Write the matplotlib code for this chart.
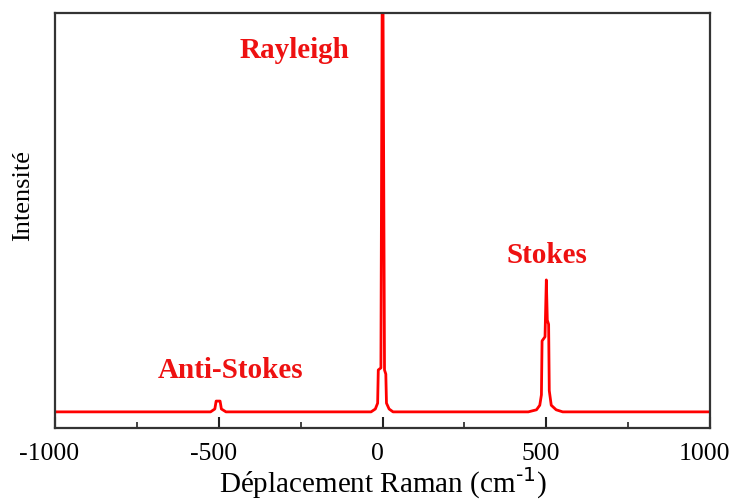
import matplotlib
matplotlib.use('Agg')
import matplotlib.pyplot as plt
from matplotlib.ticker import MultipleLocator
from matplotlib.transforms import ScaledTranslation

# Raman spectrum: Anti-Stokes, Rayleigh and Stokes lines on a flat baseline
shift = [-1000, -525, -512, -508, -496, -492, -478,
         -35, -22, -15, -13, -5, 0, 6, 10, 12, 20, 32,
         445, 470, 480, 485, 487, 496, 500, 503, 507, 509, 515, 530, 550,
         1000]
intensity = [0.039, 0.039, 0.046, 0.065, 0.065, 0.046, 0.039,
             0.039, 0.046, 0.06, 0.14, 0.145, 1.3, 0.14, 0.13, 0.06, 0.046, 0.039,
             0.039, 0.044, 0.055, 0.08, 0.21, 0.22, 0.357, 0.26, 0.25, 0.09, 0.055, 0.044, 0.039,
             0.039]

peak_names = ['Anti-Stokes', 'Rayleigh', 'Stokes']
label_x = [-463, -270, 502]
label_y = [0.120, 0.892, 0.398]

red = '#FF0000'
plt.rcParams['font.family'] = ['Liberation Serif', 'DejaVu Serif']
plt.rcParams['axes.unicode_minus'] = False

fig = plt.figure(figsize=(7.32, 5.03), dpi=100)
ax = fig.add_axes([0.0751, 0.149, 0.895, 0.825])

ax.plot(shift, intensity, color=red, lw=2)

for name, x, y in zip(peak_names, label_x, label_y):
    ax.text(x, y, name, color='#EE1111', fontsize=21, fontweight='bold',
            ha='center', va='baseline')

ax.set_xlim(-1000, 1000)
ax.set_ylim(0, 1)
ax.xaxis.set_major_locator(MultipleLocator(500))
ax.xaxis.set_minor_locator(MultipleLocator(250))
ax.tick_params(axis='x', which='major', direction='in', length=8, width=1.5,
               labelsize=18.5, pad=11, color='#222222')
ax.tick_params(axis='x', which='minor', direction='in', length=4, width=1.2,
               color='#222222')
ax.set_yticks([])

# nudge the tick labels a little to the left
shift_left = ScaledTranslation(-4 / 72, 0, fig.dpi_scale_trans)
for lbl in ax.get_xticklabels():
    lbl.set_transform(lbl.get_transform() + shift_left)

for sp in ax.spines.values():
    sp.set_linewidth(1.6)
    sp.set_color('#333333')

ax.set_xlabel('Déplacement Raman (cm$^{\\text{-1}}$)', fontsize=21, labelpad=0)
ax.set_ylabel('Intensité', fontsize=19)
ax.yaxis.set_label_coords(-0.032, 0.56)

fig.savefig('out.png', dpi=100)
